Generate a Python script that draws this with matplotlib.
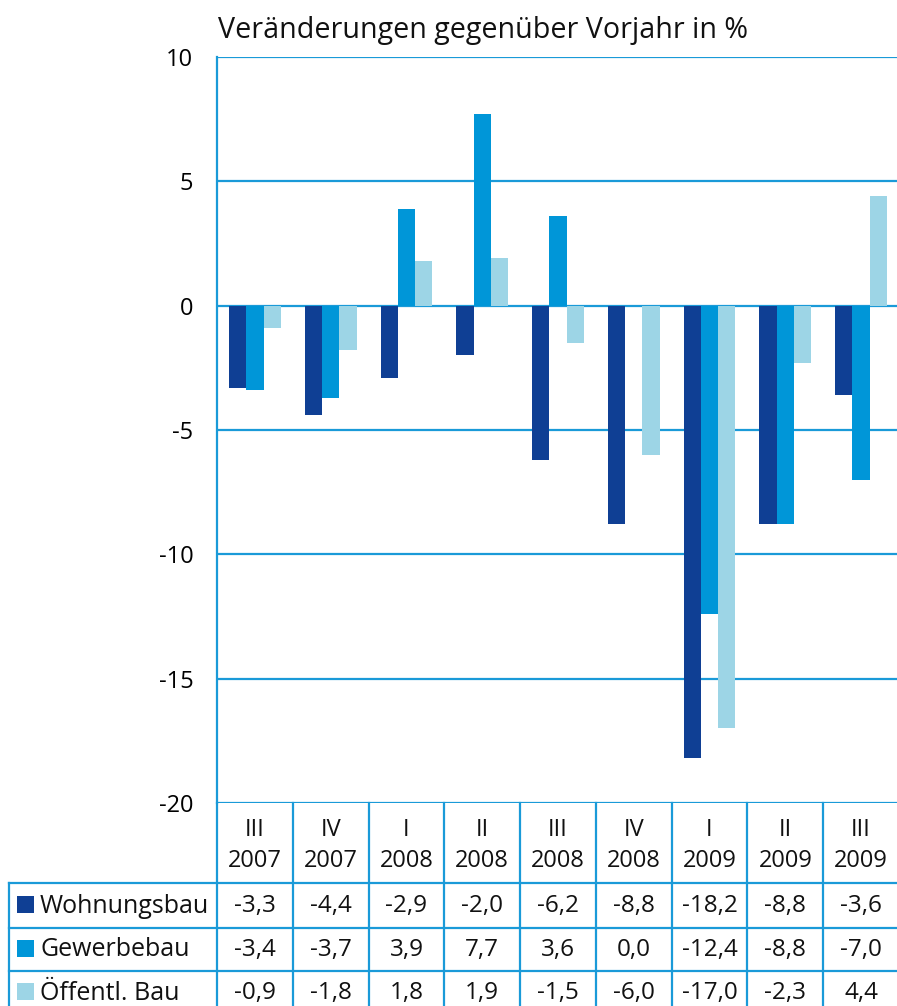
import matplotlib.pyplot as plt
from matplotlib.patches import Rectangle
import numpy as np

plt.rcParams['font.family'] = ['Open Sans', 'DejaVu Sans']

quarters = ['III', 'IV', 'I', 'II', 'III', 'IV', 'I', 'II', 'III']
years = ['2007', '2007', '2008', '2008', '2008', '2008', '2009', '2009', '2009']
series = ['Wohnungsbau', 'Gewerbebau', 'Öffentl. Bau']
wohnungsbau = [-3.3, -4.4, -2.9, -2.0, -6.2, -8.8, -18.2, -8.8, -3.6]
gewerbebau = [-3.4, -3.7, 3.9, 7.7, 3.6, 0.0, -12.4, -8.8, -7.0]
oeffentl = [-0.9, -1.8, 1.8, 1.9, -1.5, -6.0, -17.0, -2.3, 4.4]
colors = ['#0F3F94', '#0096D8', '#9DD5E6']
grid_c = '#1A9AD8'

W, H = 897, 1006
fig = plt.figure(figsize=(W / 100, H / 100), dpi=100)

# plot area in pixels
x0, x1 = 217, 899
y_top, y_bot = 57, 803
ax = fig.add_axes([x0 / W, 1 - y_bot / H, (x1 - x0) / W, (y_bot - y_top) / H])

n = len(quarters)
x = np.arange(n) + 0.5
bw = 0.228
for i, (vals, c) in enumerate(zip([wohnungsbau, gewerbebau, oeffentl], colors)):
    ax.bar(x + (i - 1) * bw, vals, width=bw, color=c, zorder=3, linewidth=0)

ax.set_xlim(0, n)
ax.set_ylim(-20, 10)
ax.set_yticks([10, 5, 0, -5, -10, -15, -20])
ax.set_yticklabels(['10', '5', '0', '-5', '-10', '-15', '-20'], fontsize=17)
ax.set_xticks([])
ax.tick_params(axis='y', length=0, pad=17)
ax.yaxis.grid(True, color=grid_c, linewidth=1.6, zorder=1)
for s in ['top', 'right', 'bottom']:
    ax.spines[s].set_visible(False)
ax.spines['left'].set_color(grid_c)
ax.spines['left'].set_linewidth(1.6)

fig.text(218 / W, 1 - 38 / H, 'Veränderungen gegenüber Vorjahr in %', fontsize=20.6,
         ha='left', va='baseline', color='#111111')

# table below the plot, drawn in pixel coordinates
tab = fig.add_axes([0, 0, 1, 1])
tab.set_xlim(0, W)
tab.set_ylim(H, 0)
tab.axis('off')
tab.patch.set_alpha(0)

cw = (x1 - x0) / n
rows_y = [883, 927.5, 970.5, 1014]
lw = 1.6
for k in range(n + 1):
    tab.plot([x0 + k * cw, x0 + k * cw], [y_bot, H], color=grid_c, lw=lw)
tab.plot([9, 9], [rows_y[0], H], color=grid_c, lw=lw)
for yy in rows_y:
    tab.plot([9, W], [yy, yy], color=grid_c, lw=lw)

for k in range(n):
    cx = x0 + (k + 0.5) * cw
    tab.text(cx, 830, quarters[k], ha='center', va='center', fontsize=17, color='#111111')
    tab.text(cx, 861, years[k], ha='center', va='center', fontsize=17, color='#111111')

for r, (name, vals, c) in enumerate(zip(series, [wohnungsbau, gewerbebau, oeffentl], colors)):
    cy = (rows_y[r] + rows_y[r + 1]) / 2
    tab.add_patch(Rectangle((17, cy - 9), 17, 17, color=c, linewidth=0))
    tab.text(40, cy + 1, name, ha='left', va='center', fontsize=18, color='#111111')
    for k, v in enumerate(vals):
        cx = x0 + (k + 0.5) * cw
        tab.text(cx, cy + 1, f'{v:.1f}'.replace('.', ','), ha='center', va='center',
                 fontsize=17.5, color='#111111')

fig.savefig('out.png', dpi=100, facecolor='w')
